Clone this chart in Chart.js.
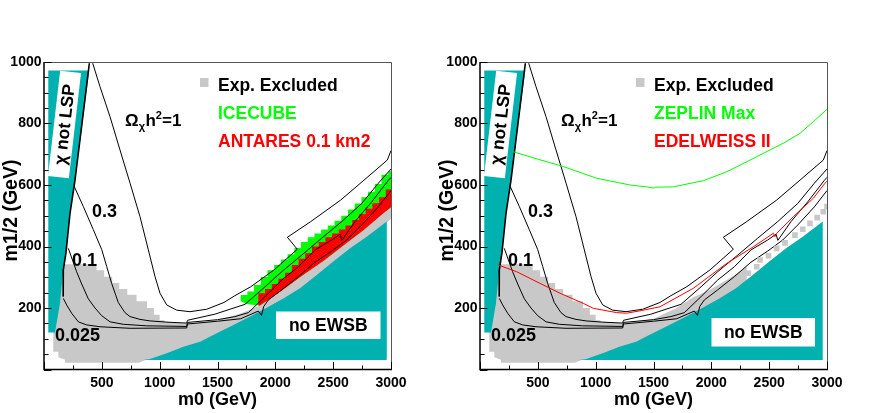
<!DOCTYPE html>
<html>
<head>
<meta charset="utf-8">
<script src="https://cdn.jsdelivr.net/npm/chart.js@4.4.1/dist/chart.umd.min.js"></script>
<style>
  html, body { margin: 0; padding: 0; background: #fff; }
  #wrap { position: relative; width: 872px; height: 413px; }
  canvas { position: absolute; top: 0; }
</style>
</head>
<body>
<div id="wrap">
  <canvas id="left" width="436" height="413" style="left:0"></canvas>
  <canvas id="right" width="436" height="413" style="left:436px"></canvas>
</div>
<script>
// all points are [m0, m1/2] in GeV

// relic density contours (same in both panels)
const lspEdge = [[392,996],[330,805],[268,616],[225,508],[190,380],[167,324],[165,280],[167,237]];
const omega1 = [[421,996],[484,920],[571,822],[657,714],[744,606],[830,497],[902,389],[960,302],[1003,248],
  [1061,210],[1147,193],[1262,188],[1407,196],[1556,218],[1650,240],[1787,269],[1989,324],[2190,391],
  [2104,430],[2306,481],[2565,551],[2767,616],[2968,681],[3000,712]];
const omega03 = [[259,597],[340,530],[426,455],[499,390],[542,335],[585,280],[642,218],[700,185],[744,172],
  [830,163],[917,158],[1061,154],[1234,151],[1240,160],[1478,180],[1738,212],[1911,269],[2055,318],
  [2228,372],[2401,427],[2574,481],[2747,540],[2891,606],[3000,652]];
const omega01 = [[210,394],[282,318],[326,278],[383,230],[441,200],[499,175],[571,155],[686,147],[888,142],
  [1234,140],[1240,153],[1500,162],[1650,172],[1767,185],[1911,237],[2055,291],[2199,334],[2343,389],
  [2487,421],[2559,440],[2575,420],[2689,481],[2833,545],[2977,615],[3000,625]];
const omega0025 = [[167,231],[196,210],[239,183],[297,155],[369,145],[484,139],[744,134],[1234,135],
  [1240,148],[1500,157],[1700,165],[1853,190],[1880,176],[1900,205],[1939,226],[2055,259],[2199,302],
  [2343,349],[2487,385],[2617,421],[2747,470],[2891,529],[3000,582]];

// theoretically excluded regions
const notLsp = [[37,972],[392,972],[268,616],[225,508],[190,380],[167,324],[150,262],[138,215],[95,120],[37,120]];
const noEwsb = [[856,31],[916,34],[1061,53],[1205,74],[1349,90],[1493,118],[1637,145],[1781,172],[1925,201],
  [2069,231],[2213,264],[2358,307],[2501,351],[2646,394],[2790,432],[2963,481],[2963,31]];

// experimentally excluded cells
const exclCore = [[80,342],[455,342],[455,323],[520,323],[520,302],[590,302],[590,281],[650,281],[650,262],
  [720,262],[720,243],[800,243],[800,222],[890,222],[890,200],[950,200],[950,178],[1000,178],[1000,160],
  [1040,160],[1040,156],[1240,150]];
const exclTail = [[880,31],[820,22],[182,22],[182,32],[124,40],[124,58],[80,58]];
const exclBandLeft = [[1500,160],[1700,182],[1867,208],[2069,260],[2242,308],[2415,353],[2588,403],
  [2761,453],[2934,508],[3000,528],[3000,490],[2963,478],[2963,40]];
const exclBandRight = [[1500,165],[1700,200],[1844,235],[2000,262],[2150,295],[2306,334],[2306,270],
  [2000,200],[1400,80]];
const exclCellsRight = [[2320,313],[2392,334],[2421,356],[2494,370],[2565,394],[2637,412],[2723,437],
  [2790,456],[2853,475],[2915,494],[2968,513],[3000,530]];

// neutrino telescopes (left panel), cell edges
const icecube = [[1700,242],[1758,242],[1758,254],[1816,254],[1816,275],[1874,275],[1874,301],[1932,301],
  [1932,323],[1990,323],[1990,340],[2048,340],[2048,358],[2106,358],[2106,375],[2164,375],[2164,395],
  [2222,395],[2222,415],[2280,415],[2280,430],[2338,430],[2338,442],[2396,442],[2396,455],[2454,455],
  [2454,468],[2512,468],[2512,484],[2570,484],[2570,500],[2628,500],[2628,520],[2686,520],[2686,540],
  [2744,540],[2744,560],[2802,560],[2802,578],[2860,578],[2860,603],[2918,603],[2918,633],[2976,633],
  [2976,645],[3000,645],[3000,528],[2934,508],[2761,453],[2588,403],[2415,353],[2242,308],[2069,260],
  [1867,208],[1758,212],[1700,222]];
const antares = [[1853,248],[1911,248],[1911,262],[1969,262],[1969,278],[2027,278],[2027,295],[2085,295],
  [2085,315],[2143,315],[2143,340],[2201,340],[2201,360],[2259,360],[2259,378],[2317,378],[2317,400],
  [2375,400],[2375,415],[2433,415],[2433,430],[2491,430],[2491,442],[2549,442],[2549,455],[2607,455],
  [2607,468],[2665,468],[2665,486],[2723,486],[2723,505],[2781,505],[2781,523],[2839,523],[2839,541],
  [2897,541],[2897,560],[2955,560],[2955,585],[3000,585],[3000,528],[2934,508],[2761,453],[2588,403],
  [2415,353],[2242,308],[2069,260],[1867,208],[1853,208]];

// direct detection limits (right panel)
const zeplinMax = [[288,708],[500,684],[720,660],[1009,622],[1297,600],[1441,594],[1499,590],[1520,593],
  [1671,594],[1931,614],[2133,643],[2392,692],[2623,736],[2767,768],[2882,806],[3000,846]];
const edelweiss2 = [[158,340],[317,318],[519,280],[692,248],[893,215],[980,199],[1182,185],[1268,183],
  [1400,192],[1556,204],[1844,264],[2133,345],[2363,399],[2536,443],[2550,432],[2565,443],[2709,497],
  [2882,557],[2983,606],[3000,612]];

const m0Range = [0, 3000];
const m12Range = [0, 1000];

const FONT = '"Liberation Sans", Arial, Helvetica, sans-serif';
const TEAL = '#00b1b0';
const GREY = '#c8c8c8';
const GREEN = '#00ff00';
const RED = '#ff0000';

function toXY(pts) {
  return pts.map(p => ({x: p[0], y: p[1]}));
}

function lineSet(pts, color, width) {
  return {
    data: toXY(pts),
    showLine: true,
    borderColor: color,
    borderWidth: width || 1,
    pointRadius: 0,
    tension: 0,
    fill: false
  };
}

function polyPath(chart, pts) {
  const ctx = chart.ctx, xs = chart.scales.x, ys = chart.scales.y;
  ctx.beginPath();
  pts.forEach((p, i) => {
    const px = xs.getPixelForValue(p[0]);
    const py = ys.getPixelForValue(p[1]);
    if (i === 0) ctx.moveTo(px, py); else ctx.lineTo(px, py);
  });
  ctx.closePath();
}

function drawOmega(ctx, x, y) {
  const big = 'bold 17px ' + FONT, small = 'bold 11px ' + FONT;
  ctx.textAlign = 'left';
  ctx.textBaseline = 'alphabetic';
  ctx.font = big; ctx.fillText('\u03A9', x, y); x += ctx.measureText('\u03A9').width;
  ctx.font = small; ctx.fillText('\u03C7', x, y + 4); x += ctx.measureText('\u03C7').width + 0.5;
  ctx.font = big; ctx.fillText('h', x, y); x += ctx.measureText('h').width;
  ctx.font = small; ctx.fillText('2', x, y - 7); x += ctx.measureText('2').width;
  ctx.font = big; ctx.fillText('=1', x, y);
}

// one plugin per panel: filled regions below the lines, boxes and texts above
function panelPlugin(cfg) {
  return {
    id: 'panel',
    beforeDatasetsDraw(chart) {
      const ctx = chart.ctx, a = chart.chartArea;
      ctx.save();
      ctx.beginPath();
      ctx.rect(a.left, a.top, a.right - a.left, a.bottom - a.top);
      ctx.clip();
      cfg.areas.forEach(r => {
        polyPath(chart, r.pts);
        ctx.fillStyle = r.color;
        ctx.fill();
      });
      ctx.restore();
    },
    afterDatasetsDraw(chart) {
      const ctx = chart.ctx;
      ctx.save();
      ctx.fillStyle = '#000';

      // chi not LSP label, tilted along the boundary
      ctx.save();
      ctx.translate(64.5, 124.5);
      ctx.rotate(-83.4 * Math.PI / 180);
      ctx.fillStyle = '#fff';
      ctx.fillRect(-53, -10.5, 106, 21);
      ctx.fillStyle = '#000';
      ctx.font = 'bold 17.5px ' + FONT;
      ctx.textAlign = 'center';
      ctx.textBaseline = 'middle';
      ctx.fillText('\u03C7 not LSP', 0, 1);
      ctx.restore();

      // no EWSB label
      const b = cfg.ewsbBox;
      ctx.fillStyle = '#fff';
      ctx.fillRect(b[0], b[1], b[2], b[3]);
      ctx.fillStyle = '#000';
      ctx.font = 'bold 17.5px ' + FONT;
      ctx.textAlign = 'center';
      ctx.textBaseline = 'middle';
      ctx.fillText('no EWSB', b[0] + b[2] / 2, b[1] + b[3] / 2 + 1);

      // contour labels
      ctx.textAlign = 'left';
      ctx.textBaseline = 'alphabetic';
      ctx.font = 'bold 18px ' + FONT;
      ctx.fillText('0.3', 92, 217);
      ctx.fillText('0.1', 72, 266);
      ctx.fillText('0.025', 55, 341);
      drawOmega(ctx, 125, 126);

      // legend
      ctx.fillStyle = GREY;
      ctx.fillRect(200, 78, 8.5, 9);
      cfg.legend.forEach((item, i) => {
        ctx.fillStyle = item.color;
        ctx.font = 'bold 17.5px ' + FONT;
        ctx.fillText(item.text, 218, 91 + i * 28);
      });
      ctx.restore();
    },
    afterDraw(chart) {
      const ctx = chart.ctx, a = chart.chartArea;
      const xs = chart.scales.x, ys = chart.scales.y;
      ctx.save();
      // frame
      ctx.strokeStyle = '#555';
      ctx.lineWidth = 1;
      ctx.beginPath();
      ctx.moveTo(a.left, a.top + 0.5); ctx.lineTo(a.right + 0.5, a.top + 0.5); ctx.lineTo(a.right + 0.5, a.bottom);
      ctx.stroke();
      ctx.strokeStyle = '#000';
      ctx.lineWidth = 1.5;
      ctx.beginPath();
      ctx.moveTo(a.left, a.top); ctx.lineTo(a.left, a.bottom); ctx.lineTo(a.right + 1, a.bottom);
      ctx.stroke();
      // inward ticks
      ctx.lineWidth = 1;
      ctx.beginPath();
      for (let v = m0Range[0]; v <= m0Range[1]; v += 250) {
        const px = Math.round(xs.getPixelForValue(v)) + 0.5;
        ctx.moveTo(px, a.bottom);
        ctx.lineTo(px, a.bottom - (v % 500 ? 4 : 7.5));
      }
      for (let v = m12Range[0]; v <= m12Range[1]; v += 50) {
        const py = Math.round(ys.getPixelForValue(v)) + 0.5;
        ctx.moveTo(a.left, py);
        ctx.lineTo(a.left + (v % 200 ? 4.5 : 7.5), py);
      }
      ctx.stroke();
      // axis titles
      ctx.fillStyle = '#000';
      ctx.textAlign = 'center';
      ctx.textBaseline = 'middle';
      ctx.font = 'bold 18px ' + FONT;
      ctx.fillText('m0 (GeV)', (a.left + a.right) / 2, 400.5);
      ctx.save();
      ctx.translate(11.5, 210.5);
      ctx.rotate(-Math.PI / 2);
      ctx.font = 'bold 19.5px ' + FONT;
      ctx.fillText('m1/2 (GeV)', 0, 0);
      ctx.restore();
      ctx.restore();
    }
  };
}

function makeOptions() {
  const tickFont = {family: FONT, size: 14, weight: 'bold'};
  return {
    responsive: false,
    animation: false,
    layout: {padding: {top: 62, right: 45, left: 0, bottom: 0}},
    plugins: {legend: {display: false}, tooltip: {enabled: false}},
    scales: {
      x: {
        type: 'linear',
        min: m0Range[0],
        max: m0Range[1],
        grid: {display: false, drawTicks: false},
        border: {display: false},
        ticks: {
          stepSize: 500, padding: 5, color: '#000', font: tickFont,
          maxRotation: 0, autoSkip: false,
          callback: v => (v === 0 ? '' : String(v))
        },
        afterFit: s => { s.height = 43.5; }
      },
      y: {
        type: 'linear',
        min: m12Range[0],
        max: m12Range[1],
        grid: {display: false, drawTicks: false},
        border: {display: false},
        ticks: {
          stepSize: 200, padding: 2.5, color: '#000', font: tickFont,
          callback: v => (v === 0 ? '' : String(v))
        },
        afterFit: s => { s.width = 44; }
      }
    }
  };
}

const contourSets = () => [
  lineSet(lspEdge, '#000', 1.6),
  lineSet(omega1, '#000'),
  lineSet(omega03, '#000'),
  lineSet(omega01, '#000'),
  lineSet(omega0025, '#000')
];

new Chart(document.getElementById('left'), {
  type: 'scatter',
  data: {datasets: contourSets()},
  options: makeOptions(),
  plugins: [panelPlugin({
    areas: [
      {pts: exclCore.concat(exclBandLeft, exclTail), color: GREY},
      {pts: icecube, color: GREEN},
      {pts: antares, color: RED},
      {pts: notLsp, color: TEAL},
      {pts: noEwsb, color: TEAL}
    ],
    ewsbBox: [276, 311.5, 104.5, 27.5],
    legend: [
      {text: 'Exp. Excluded', color: '#000'},
      {text: 'ICECUBE', color: GREEN},
      {text: 'ANTARES 0.1 km2', color: RED}
    ]
  })]
});

new Chart(document.getElementById('right'), {
  type: 'scatter',
  data: {
    datasets: [
      {
        data: toXY(exclCellsRight),
        pointStyle: 'rect',
        pointRadius: 4,
        backgroundColor: GREY,
        borderWidth: 0,
        showLine: false
      },
      lineSet(zeplinMax, GREEN),
      lineSet(edelweiss2, RED)
    ].concat(contourSets())
  },
  options: makeOptions(),
  plugins: [panelPlugin({
    areas: [
      {pts: exclCore.concat(exclBandRight, exclTail), color: GREY},
      {pts: notLsp, color: TEAL},
      {pts: noEwsb, color: TEAL}
    ],
    ewsbBox: [275.5, 318, 103.5, 28.5],
    legend: [
      {text: 'Exp. Excluded', color: '#000'},
      {text: 'ZEPLIN Max', color: GREEN},
      {text: 'EDELWEISS II', color: RED}
    ]
  })]
});
</script>
</body>
</html>
